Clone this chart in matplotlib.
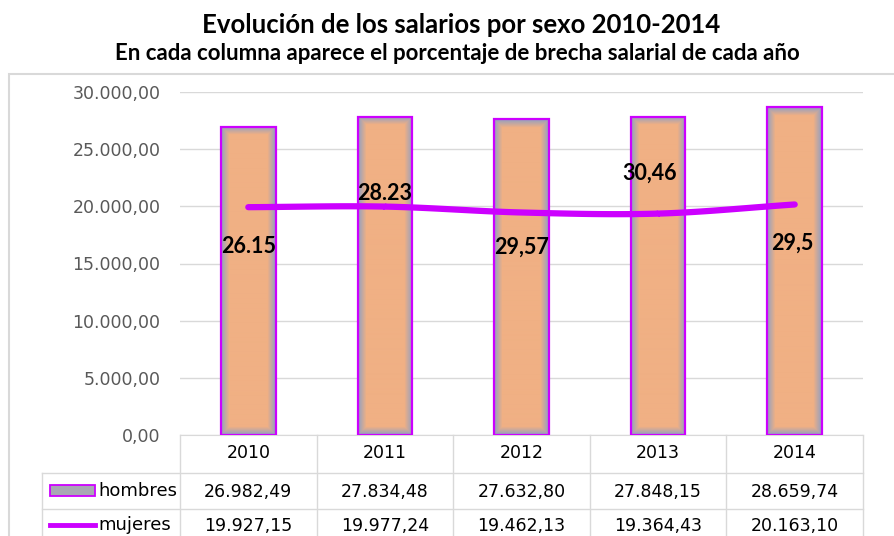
import numpy as np
import matplotlib.pyplot as plt
from matplotlib.patches import Rectangle
from matplotlib.lines import Line2D
import matplotlib.colors as mcolors

anios = ["2010", "2011", "2012", "2013", "2014"]
hombres = [26982.49, 27834.48, 27632.80, 27848.15, 28659.74]
mujeres = [19927.15, 19977.24, 19462.13, 19364.43, 20163.10]
brecha = ["26.15", "28.23", "29,57", "30,46", "29,5"]
# altura (en unidades del eje) donde Excel dejó cada etiqueta
brecha_y = [16450, 21150, 16450, 22900, 16800]
brecha_dx = [0, 0, 0, -0.06, -0.02]
yticks = [0, 5000, 10000, 15000, 20000, 25000, 30000]

MAGENTA = "#CC00FF"
NARROW = ["Liberation Sans Narrow", "DejaVu Sans"]
BOLD = ["Lato", "DejaVu Sans"]


def fmt_es(v):
    s = f"{v:,.2f}"
    return s.replace(",", "X").replace(".", ",").replace("X", ".")


def spline(xs, ys, n=30):
    # curva suavizada tipo Excel (Catmull-Rom)
    xs = np.asarray(xs, float)
    ys = np.asarray(ys, float)
    px = np.concatenate([[2 * xs[0] - xs[1]], xs, [2 * xs[-1] - xs[-2]]])
    py = np.concatenate([[2 * ys[0] - ys[1]], ys, [2 * ys[-1] - ys[-2]]])
    ox, oy = [], []
    for i in range(1, len(px) - 2):
        t = np.linspace(0, 1, n)
        for p, o in ((px, ox), (py, oy)):
            p0, p1, p2, p3 = p[i - 1], p[i], p[i + 1], p[i + 2]
            o.extend(0.5 * (2 * p1 + (-p0 + p2) * t
                            + (2 * p0 - 5 * p1 + 4 * p2 - p3) * t ** 2
                            + (-p0 + 3 * p1 - 3 * p2 + p3) * t ** 3))
    return np.array(ox), np.array(oy)


fig = plt.figure(figsize=(8.94, 5.36), dpi=100)

# marco del gráfico
fig.add_artist(Rectangle((9 / 894, -0.1), 2, 1.1 - 74 / 536, transform=fig.transFigure,
                         fill=False, edgecolor="#D9D9D9", linewidth=1.5))

ax = fig.add_axes([180 / 894, 101 / 536, 683 / 894, 343 / 536])
x = np.arange(len(anios))
ax.set_xlim(-0.5, len(anios) - 0.5)
ax.set_ylim(0, 30000)
ax.set_yticks(yticks)
ax.set_yticklabels([fmt_es(v) for v in yticks], family=NARROW, fontsize=12.5, color="#595959")
ax.set_xticks([])
ax.tick_params(axis="y", length=0, pad=14)
ax.grid(axis="y", color="#D9D9D9", linewidth=1)
ax.set_axisbelow(True)
for s in ["top", "right", "left"]:
    ax.spines[s].set_visible(False)
ax.spines["bottom"].set_color("#D9D9D9")

# columnas con degradado gris -> naranja
gris = np.array(mcolors.to_rgb("#94A0C0"))
naranja = np.array(mcolors.to_rgb("#F0B084"))
bars = ax.bar(x, hombres, width=0.4, color="none", edgecolor=MAGENTA, linewidth=1.6, zorder=3)
for b in bars:
    W, H = 55, int(b.get_height() / 30000 * 343)
    xx = np.arange(W)[None, :]
    yy = np.arange(H)[:, None]
    d = np.minimum(np.minimum(xx, W - 1 - xx), np.minimum(yy, H - 1 - yy))
    t = np.clip(d / 8.0, 0, 1)[..., None]
    img = gris * (1 - t) + naranja * t
    im = ax.imshow(img, extent=(b.get_x(), b.get_x() + b.get_width(), 0, b.get_height()),
                   aspect="auto", zorder=2, interpolation="bilinear")
    im.set_clip_path(b)

sx, sy = spline(x, mujeres)
ax.plot(sx, sy, color=MAGENTA, linewidth=4.5, solid_capstyle="round", zorder=4)

for i, lab in enumerate(brecha):
    ax.text(x[i] + brecha_dx[i], brecha_y[i], lab, ha="center", va="center",
            fontsize=15.5, fontweight="bold", family=BOLD, zorder=5)

# tabla de datos
tr = ax.get_xaxis_transform()
y_px = lambda p: (435 - p) / 343.0
lc = "#D9D9D9"
x_left = -0.5 - 138 / 137.0
for k in range(len(anios) + 1):
    ax.add_line(Line2D([k - 0.5, k - 0.5], [0, y_px(540)], transform=tr, color=lc,
                       linewidth=1, clip_on=False))
ax.add_line(Line2D([x_left, x_left], [y_px(473), y_px(540)], transform=tr, color=lc,
                   linewidth=1, clip_on=False))
for yp in (473, 509):
    ax.add_line(Line2D([x_left, len(anios) - 0.5], [y_px(yp), y_px(yp)], transform=tr,
                       color=lc, linewidth=1, clip_on=False))

for i in range(len(anios)):
    ax.text(x[i], y_px(453), anios[i], transform=tr, ha="center", va="center",
            family=NARROW, fontsize=12.5)
    ax.text(x[i], y_px(492), fmt_es(hombres[i]), transform=tr, ha="center", va="center",
            family=NARROW, fontsize=12.5)
    ax.text(x[i], y_px(526), fmt_es(mujeres[i]), transform=tr, ha="center", va="center",
            family=NARROW, fontsize=12.5)

# claves de leyenda en la tabla
kx0, kx1 = x_left + 8 / 137.0, x_left + 53 / 137.0
ax.add_patch(Rectangle((kx0, y_px(496)), kx1 - kx0, 11 / 343.0, transform=tr,
                       facecolor="#A8A8B4", edgecolor=MAGENTA, linewidth=1.3, clip_on=False))
ax.add_line(Line2D([kx0, kx1], [y_px(525), y_px(525)], transform=tr, color=MAGENTA,
                   linewidth=3.5, clip_on=False))
ax.text(kx1 + 3 / 137.0, y_px(491), "hombres", transform=tr, ha="left", va="center",
        family=NARROW, fontsize=13)
ax.text(kx1 + 3 / 137.0, y_px(525), "mujeres", transform=tr, ha="left", va="center",
        family=NARROW, fontsize=13)

fig.text(0.516, 1 - 33 / 536, "Evolución de los salarios por sexo 2010-2014",
         ha="center", va="baseline", fontsize=18.5, fontweight="bold", family=BOLD)
fig.text(0.512, 1 - 60 / 536, "En cada columna aparece el porcentaje de brecha salarial de cada año",
         ha="center", va="baseline", fontsize=16, fontweight="bold", family=BOLD)

plt.savefig("out.png", dpi=100)
